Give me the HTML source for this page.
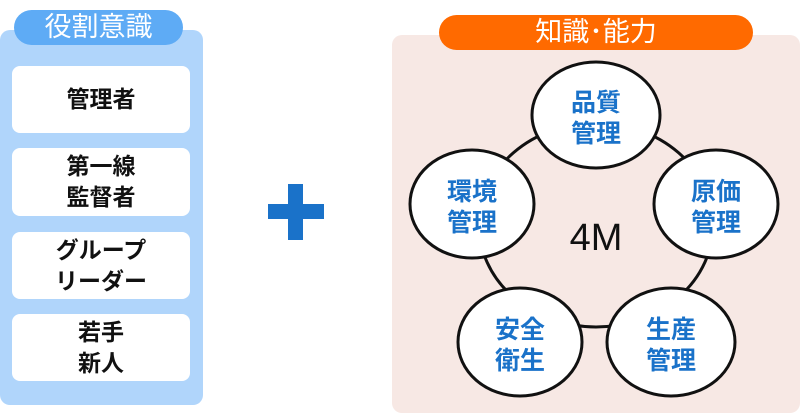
<!DOCTYPE html>
<html><head><meta charset="utf-8"><style>
body{margin:0;width:800px;height:413px;background:#fff;position:relative;overflow:hidden;font-family:"Liberation Sans","Noto Sans CJK JP",sans-serif}
.a{position:absolute}
.lp{left:0;top:30px;width:203px;height:375px;background:#b0d5fb;border-radius:10px}
.lt{left:14px;top:10px;width:169px;height:35px;background:#5eabf5;border-radius:18px;color:#fff;font-size:27px;line-height:35px;text-align:center}
.bx{left:12px;width:178px;background:#fff;border-radius:8px;display:flex;align-items:center;justify-content:center;text-align:center;font-size:23px;font-weight:bold;line-height:31px;color:#111}
.rp{left:392px;top:35px;width:408px;height:378px;background:#f7e8e4;border-radius:10px}
.rt{left:439px;top:15px;width:314px;height:35px;background:#ff6a00;border-radius:18px;color:#fff;font-size:27px;line-height:35px;text-align:center}
</style></head><body>
<div class="a lp"></div><div class="a lt">役割意識</div>
<div class="a bx" style="top:66px;height:67px">管理者</div>
<div class="a bx" style="top:148px;height:68px">第一線<br>監督者</div>
<div class="a bx" style="top:232px;height:67px">グループ<br>リーダー</div>
<div class="a bx" style="top:314px;height:67px">若手<br>新人</div>
<div class="a" style="left:268px;top:204px;width:56px;height:15px;background:#1a72c9"></div>
<div class="a" style="left:288px;top:184px;width:15px;height:56px;background:#1a72c9"></div>
<div class="a rp"></div><div class="a rt">知識･能力</div>
<svg class="a" style="left:0;top:0" width="800" height="413">
<ellipse cx="596" cy="225" rx="117" ry="102" fill="none" stroke="#111" stroke-width="3"/>
<g fill="#fff" stroke="#111" stroke-width="3">
<ellipse cx="596" cy="115" rx="64" ry="53"/>
<ellipse cx="472" cy="204" rx="62" ry="54"/>
<ellipse cx="716" cy="204" rx="62" ry="54"/>
<ellipse cx="520" cy="342" rx="62" ry="54"/>
<ellipse cx="671" cy="342" rx="64" ry="54"/>
</g>
<g fill="#1a72c9" font-size="25" font-weight="bold" text-anchor="middle" font-family="Liberation Sans,Noto Sans CJK JP,sans-serif">
<text x="596" y="111">品質</text><text x="596" y="142">管理</text>
<text x="472" y="200">環境</text><text x="472" y="231">管理</text>
<text x="716" y="200">原価</text><text x="716" y="231">管理</text>
<text x="520" y="338">安全</text><text x="520" y="369">衛生</text>
<text x="671" y="338">生産</text><text x="671" y="369">管理</text>
</g>
<text x="596" y="250" font-size="38" text-anchor="middle" fill="#111" font-family="Liberation Sans,sans-serif">4M</text>
</svg>
</body></html>
